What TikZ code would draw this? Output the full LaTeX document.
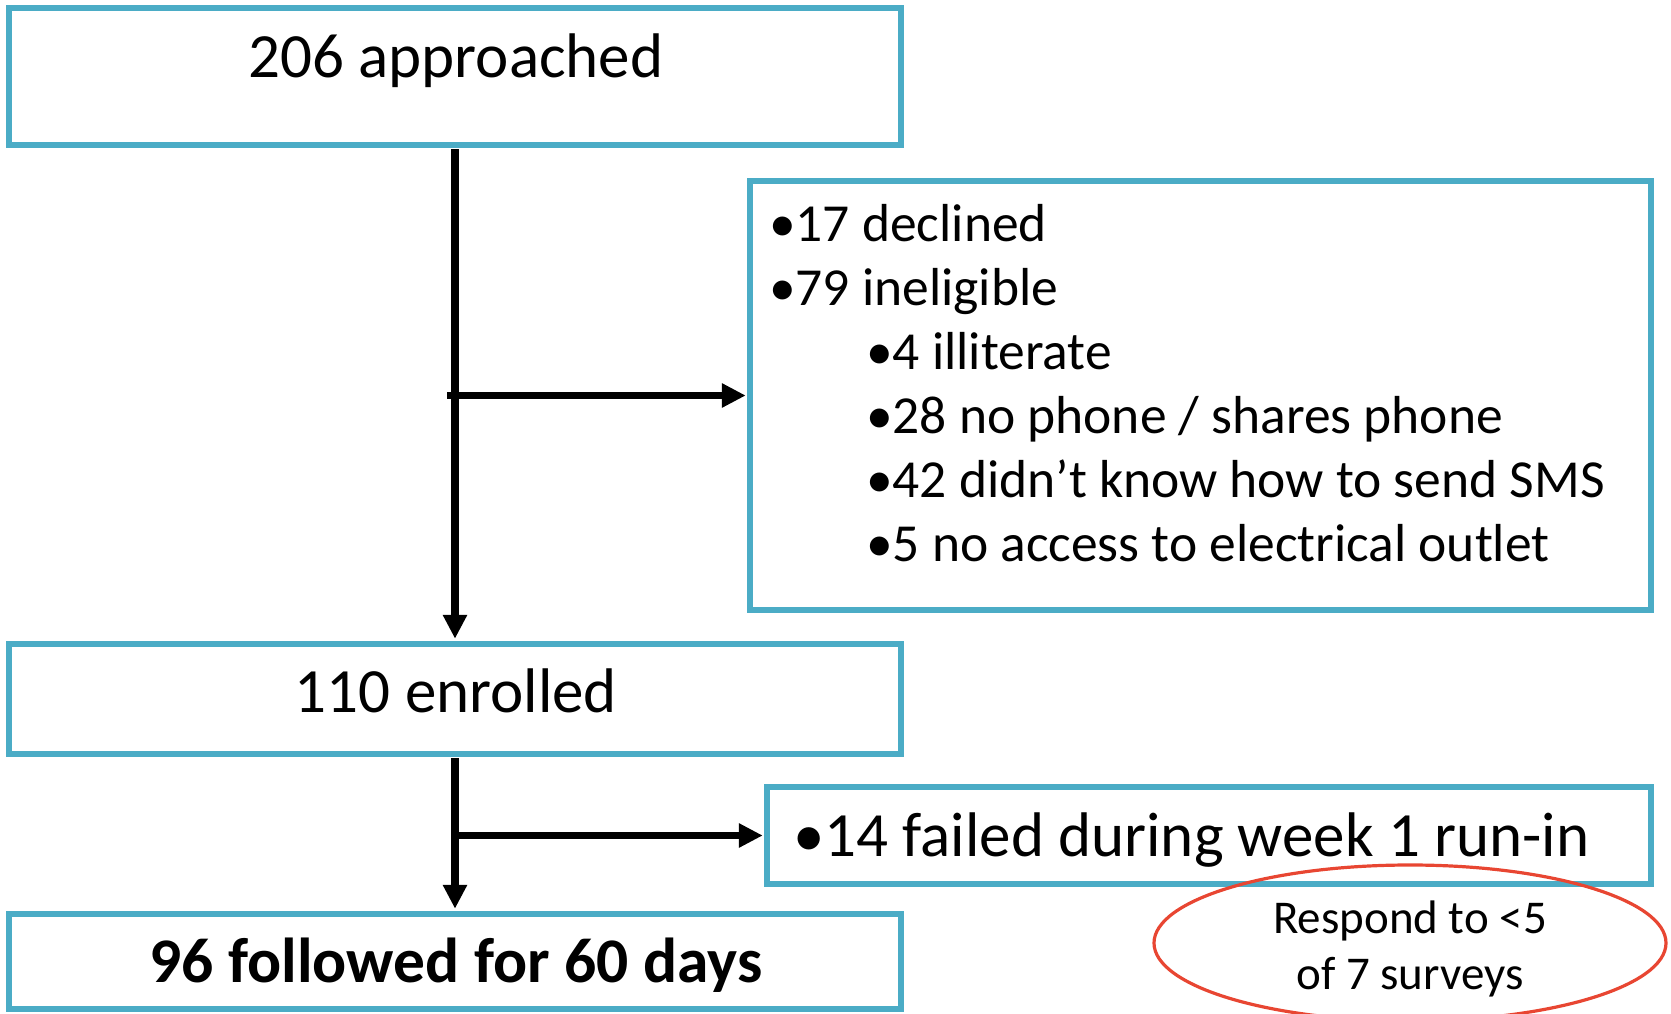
\documentclass[tikz,border=0pt]{standalone}
\usepackage{fontspec}
\setmainfont{Carlito}
\usetikzlibrary{arrows.meta,shapes.geometric}
\definecolor{boxblue}{RGB}{75,172,198}
\definecolor{ovalred}{RGB}{232,70,50}
\begin{document}
\begin{tikzpicture}[x=1pt,y=-1pt,
  flowbox/.style={draw=boxblue,line width=6.5pt,inner sep=0pt,rectangle},
  conn/.style={line width=7.5pt,-{Triangle[length=24pt,width=23pt]}},
  bigtxt/.style={font=\fontsize{63}{75}\selectfont,inner sep=0pt,anchor=base},
  listtxt/.style={font=\fontsize{53.5}{64}\selectfont,inner sep=0pt,anchor=base west},
  ovaltxt/.style={font=\fontsize{47}{56}\selectfont,inner sep=0pt,anchor=base},
]
\clip (0,0) rectangle (1671,1014);
% boxes
\node[flowbox, minimum width=892pt, minimum height=137pt] (b1) at (455,76.5) {};
\node[flowbox, minimum width=901pt, minimum height=429pt] (b2) at (1200.5,395.5) {};
\node[flowbox, minimum width=892pt, minimum height=110pt] (b3) at (455,699) {};
\node[flowbox, minimum width=884pt, minimum height=97pt] (b4) at (1209,835.5) {};
\node[flowbox, minimum width=892pt, minimum height=95pt] (b5) at (455,961.5) {};
% texts
\node[bigtxt] (t1) at (456,78) {206 approached};
\node[bigtxt] (t3) at (456,712) {110 enrolled};
\node[bigtxt,font=\fontsize{63.5}{75}\selectfont\bfseries] (t5) at (456,982.6) {96 followed for 60 days};
\node[bigtxt,anchor=base west] (t4) at (793,856) {•14 failed during week 1 run-in};
\node[listtxt] (l1) at (769,241) {•17 declined};
\node[listtxt] (l2) at (769,305) {•79 ineligible};
\node[listtxt] (l3) at (866,369) {•4 illiterate};
\node[listtxt] (l4) at (866,433) {•28 no phone / shares phone};
\node[listtxt] (l5) at (866,497) {•42 didn’t know how to send SMS};
\node[listtxt] (l6) at (866,561) {•5 no access to electrical outlet};
% oval
\node[draw=ovalred,line width=3.2pt,ellipse,inner sep=0pt,minimum width=512pt,minimum height=156pt] (ov) at (1410,943) {};
\node[ovaltxt] (o1) at (1410,933.6) {Respond to <5};
\node[ovaltxt] (o2) at (1410,989) {of 7 surveys};
% connectors
\coordinate (j1) at (447,395.5);
\coordinate (j2) at (455,835.5);
\draw[conn,shorten <=1pt,shorten >=2pt] (b1.south) -- (b3.north);
\draw[conn,shorten >=1pt] (j1) -- (b2.west);
\draw[conn,shorten <=1pt,shorten >=2pt] (b3.south) -- (b5.north);
\draw[conn,shorten >=1pt] (j2) -- (b4.west);
\end{tikzpicture}
\end{document}
